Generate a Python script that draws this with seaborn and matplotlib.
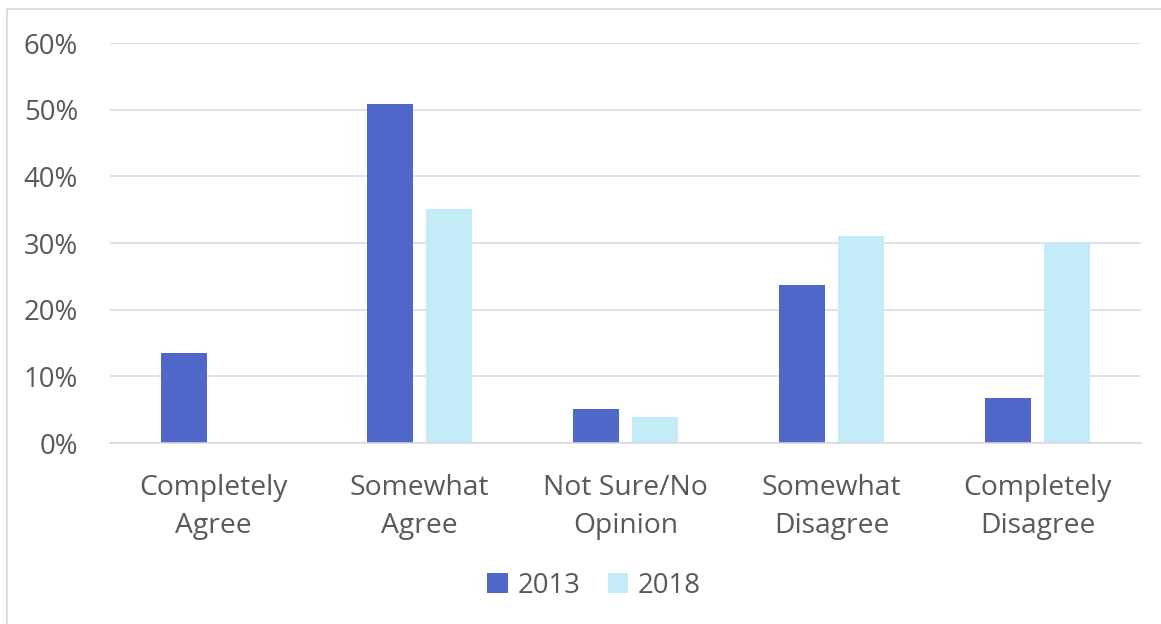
import matplotlib
matplotlib.use("Agg")
import matplotlib.pyplot as plt
import seaborn as sns
import pandas as pd
from matplotlib.lines import Line2D
from matplotlib.patches import Patch
from matplotlib.ticker import FuncFormatter

categories = ["Completely\nAgree", "Somewhat\nAgree", "Not Sure/No\nOpinion",
              "Somewhat\nDisagree", "Completely\nDisagree"]
values_2013 = [13.5, 50.8, 5.1, 23.7, 6.7]
values_2018 = [0.0, 35.1, 3.9, 31.1, 30.0]
years = ["2013", "2018"]
colors = {"2013": "#4F67C9", "2018": "#C3EBF8"}

df = pd.DataFrame({
    "category": categories * 2,
    "value": values_2013 + values_2018,
    "year": [years[0]] * 5 + [years[1]] * 5,
})

sns.set_theme(style="white")
plt.rcParams["font.family"] = ["Open Sans", "DejaVu Sans"]

W, H = 1161, 624
fig = plt.figure(figsize=(W / 100, H / 100), dpi=100)
ax = fig.add_axes([110 / W, 1 - 443 / H, (1141 - 110) / W, (443 - 43) / H])

sns.barplot(data=df, x="category", y="value", hue="year", palette=colors,
            saturation=1, width=0.573, gap=0.22, linewidth=0, ax=ax,
            legend=False, order=categories, hue_order=years)

ax.set_ylim(0, 60)
ax.set_xlim(-0.5, 4.5)
ax.set_yticks(range(0, 61, 10))
ax.yaxis.set_major_formatter(FuncFormatter(lambda v, p: f"{int(v)}%"))
ax.grid(axis="y", color="#D9D9D9", linewidth=1.1)
ax.set_axisbelow(True)
for s in ["top", "right", "left"]:
    ax.spines[s].set_visible(False)
ax.spines["bottom"].set_color("#D9D9D9")
ax.spines["bottom"].set_linewidth(1.1)
ax.set_xlabel("")
ax.set_ylabel("")
ax.tick_params(axis="y", length=0, pad=23, labelsize=19.8, labelcolor="#595959")
ax.tick_params(axis="x", length=0, pad=22, labelsize=20.3, labelcolor="#595959")
for t in ax.get_xticklabels():
    t.set_linespacing(1.5)

handles = [Patch(facecolor=colors[y], edgecolor="none", label=y) for y in years]
fig.legend(handles=handles, loc="center", bbox_to_anchor=(594 / W, 1 - 586 / H),
           ncol=2, frameon=False, fontsize=19.8, labelcolor="#595959",
           handlelength=0.75, handleheight=0.75, handletextpad=0.35,
           columnspacing=1.0)

# outer chart border (visible left and top)
fig.add_artist(Line2D([7 / W, 7 / W], [0, 1 - 9 / H], transform=fig.transFigure,
                      color="#D9D9D9", linewidth=1.3))
fig.add_artist(Line2D([7 / W, 1], [1 - 9 / H, 1 - 9 / H], transform=fig.transFigure,
                      color="#D9D9D9", linewidth=1.3))

fig.savefig("out.png", dpi=100, facecolor="white")
